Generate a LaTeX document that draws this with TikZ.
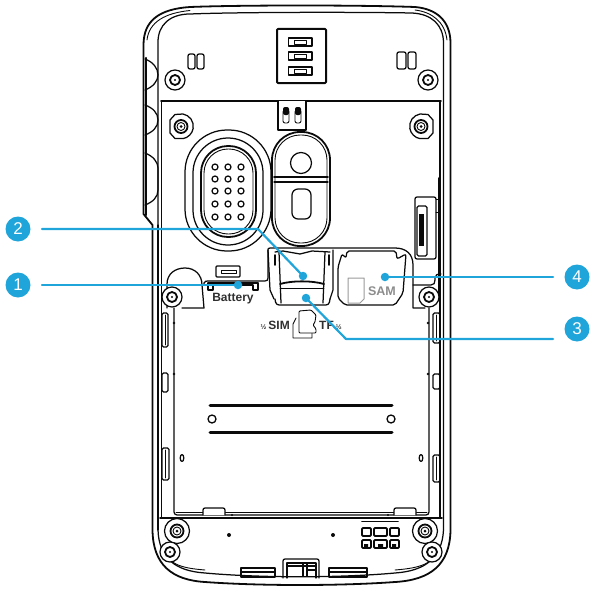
\documentclass[tikz,border=0pt]{standalone}
\usepackage{fontspec}
\setmainfont{Liberation Sans}
\definecolor{callout}{HTML}{1FA5DA}
\definecolor{ink}{HTML}{0A0A0A}
\tikzset{
 every path/.style={line join=round,line cap=round},
 ln/.style={draw=ink,line width=1.25pt},
 thn/.style={draw=ink,line width=.9pt},
 thk/.style={draw=ink,line width=1.8pt},
 badge/.style={circle,fill=callout,minimum size=25pt,inner sep=0,text=white,font=\fontsize{17}{17}\selectfont},
 lead/.style={draw=callout,line width=2.2pt},
 tipdot/.style={circle,fill=callout,minimum size=8.5pt,inner sep=0},
 lbl/.style={inner sep=0,font=\bfseries\fontsize{12}{12}\selectfont,text=ink!85},
 graylbl/.style={inner sep=0,font=\bfseries\fontsize{12.5}{12.5}\selectfont,text=black!45},
}
\newcommand{\screw}[3]{% x,y,r
 \draw[ln,fill=white] (#1,#2) circle (#3);
 \draw[thk] (#1,#2) circle (#3*.5);
 \fill[ink] (#1,#2) circle (#3*.12);
}
\newcommand{\stackmark}{{\fontsize{7}{7}\selectfont ½}}
\begin{document}
\begin{tikzpicture}[x=1pt,y=-1pt]
\useasboundingbox (0,0) rectangle (594,594);
% ---- shell
\draw[thk] (152.5,225) -- (143.5,214) -- (143.5,45) .. controls (143.5,20) and (160,9) .. (190,7) .. controls (240,5) and (360,5) .. (415,7) .. controls (438,9) and (450,22) .. (450.5,42) -- (450.5,530) .. controls (450,565) and (430,580) .. (395,582) .. controls (340,586) and (260,586) .. (205,582) .. controls (172,580) and (153,565) .. (152.5,530) -- cycle;
\draw[thn] (147,40) .. controls (149,22) and (165,13) .. (190,10.5);
\draw[thn] (415,10) .. controls (432,12) and (445,22) .. (447,40);
\draw[ln] (158,225) -- (158,42) .. controls (158,25) and (170,14) .. (190,14) .. controls (240,12) and (360,12) .. (412,13) .. controls (432,14) and (443,25) .. (443.5,42) -- (443.5,530);
\draw[ln] (158,225) -- (158,530);
\draw[ln] (158,530) .. controls (159,558) and (175,571) .. (205,573) .. controls (260,578) and (340,578) .. (395,573) .. controls (425,571) and (442,558) .. (443.5,530);
\draw[thn] (163,545) .. controls (166,564) and (180,568) .. (205,570);
\draw[thn] (395,570) .. controls (420,568) and (436,564) .. (439,545);
\draw[draw=ink,line width=2.4pt] (146,58) -- (146,215);
% side keys
\draw[ln] (145,59) .. controls (153,62) and (158,68) .. (158,75) .. controls (158,81) and (153,87) .. (145,90);
\draw[ln] (145,105) .. controls (153,108) and (158,113) .. (158,120) .. controls (158,127) and (153,132) .. (145,135);
\draw[ln] (145,153) .. controls (153,156) and (158,162) .. (158,168) -- (158,190) .. controls (158,197) and (153,202) .. (145,205);
% ---- top module
\draw[draw=ink,line width=2pt,rounded corners=1pt] (277,29) rectangle (326,83);
\foreach \yy/\name in {38/a,52/b,67/c}{
 \draw[thk] (288.5,\yy) rectangle (312,\yy+8);
 \draw[thn] (294.5,\yy+2) rectangle (306,\yy+6);
}
\foreach \xa/\xb/\ya in {188/195/54,197/204/54,397/406/52,408/416/52}
 \draw[ln,rounded corners=2pt] (\xa,\ya) rectangle (\xb,69);
\screw{175}{80}{10}
\screw{428}{80}{10}
% ---- panel
\draw[thk] (161,101) -- (441,101);
\draw[ln] (161.5,101) -- (161.5,518);
\draw[ln] (440,101) -- (440,518);
\draw[thk] (439,178) -- (439,300);
\draw[thk] (160,518) -- (442,518);
\draw[ln,fill=white] (278,101) -- (278,130) -- (306,130) -- (306,101);
\foreach \xx in {286,298}{
 \draw[thn,rounded corners=2pt] (\xx-3,110) rectangle (\xx+3,123);
 \fill[ink,rounded corners=2pt] (\xx-3,107) rectangle (\xx+3,115);
}
% hex screws
\draw[ln,fill=white] (170,120) -- (175,114.5) -- (183,114) arc (-80:80:12.5) -- (175,138.5) -- (170,133) -- cycle;
\draw[ln,fill=white] (433,120) -- (428,114.5) -- (420,114) arc (260:100:12.5) -- (428,138.5) -- (433,133) -- cycle;
\foreach \cx in {181,421}{
 \draw[thk] (\cx,126.5) circle (6.5);
 \draw[thn] (\cx,126.5) circle (4);
 \fill[ink] (\cx,126.5) circle (1.5);
}
% ---- speaker
\draw[ln,rounded corners=42pt] (185,130) rectangle (271,251);
\draw[ln,rounded corners=35pt] (193,138) rectangle (263,245);
\draw[thk,rounded corners=27pt] (201,146) rectangle (256,237);
\draw[thn,rounded corners=24pt] (204,149) rectangle (253,234);
\foreach \xx in {215,228,241}\foreach \yy in {167,179,191,204,217}
 \draw[ln] (\xx,\yy) circle (3);
% ---- capsule
\draw[thk,rounded corners=28pt] (272,132) rectangle (330,246);
\draw[thn,rounded corners=25pt] (275,135) rectangle (327,243);
\draw[thk] (274,177) -- (328,177);
\draw[ln] (274,182) -- (328,182);
\draw[ln] (301,163) circle (10.5);
\draw[ln,rounded corners=6pt] (292,189) rectangle (311,219);
% ---- right connector
\draw[ln,rounded corners=2pt] (415,197) rectangle (436,259);
\draw[ln,rounded corners=1.5pt] (417,206) rectangle (427,256);
\fill[ink] (419,214) rectangle (424,246);
\draw[thn] (436,199) -- (440,199) (436,212) -- (440,212);
% ---- holder outline
\draw[ln] (167,308) -- (167,284) .. controls (167,274) and (175,268) .. (185,268) .. controls (195,268) and (202,275) .. (202,285) -- (204,308) -- (182,308);
\draw[ln] (204,285) -- (204,283) .. controls (205,281) and (206,281) .. (208,281) -- (265,281) .. controls (267,281) and (268,280) .. (268,278) -- (268,250) .. controls (268,249) and (268,248) .. (270,248) -- (395,248) .. controls (406,248) and (413,254) .. (413,265) -- (413,308) -- (425,308);
\draw[ln] (413,285) -- (431,285) .. controls (434,285) and (435,283) .. (435,280) -- (435,278) .. controls (435,275) and (437,274) .. (441,274);
% ---- battery connector
\draw[ln,rounded corners=1pt] (216,266) rectangle (240,277);
\draw[thn] (221,270) rectangle (236,273);
\draw[thk] (208,283) -- (258,283);
\draw[ln] (208,283) -- (208,290) -- (213,290) -- (213,285) -- (253,285) -- (253,290) -- (258,290) -- (258,283);
\node[lbl] (batt) at (233,299) {Battery};
% ---- SIM / TF tray
\draw[ln] (275,252) -- (283,251) -- (300,254) -- (312,251) -- (330,252);
\draw[ln] (268,250) -- (270,290) -- (274,299) (333,250) -- (333,290) -- (330,299);
\draw[ln,rounded corners=3pt] (275,299) -- (276,305) -- (329,305) -- (330,299);
\draw[ln] (279,252) -- (281,303) (325,252) -- (323,303);
\draw[thk] (275,255) -- (275,265) (329,255) -- (329,265);
\draw[thk] (280,284) .. controls (292,280.5) and (312,280.5) .. (324,284);
\draw[thn] (280,288) -- (324,288);
% ---- SAM tray
\draw[ln,rounded corners=2pt] (342,254) -- (338,267) -- (338,298) -- (345,305) -- (395,305) -- (403,293) -- (406,254) -- (397,259) -- (396,251) -- (347,251) -- (346,258) -- cycle;
\draw[draw=black!40,line width=1pt] (348,278) -- (364,278) -- (364,299) -- (360,303) -- (348,303) -- cycle;
\node[graylbl] (sam) at (382,291) {SAM};
% ---- SIM / TF labels
\node[lbl,anchor=east] (simt) at (290,325) {\stackmark\,SIM};
\node[lbl,anchor=west] (tft) at (319,325) {TF\,\stackmark};
\draw[thn,fill=white] (296,318) -- (293,324) -- (293,338) -- (312,338) -- (312,331);
\draw[thn,fill=white,rounded corners=1pt] (299,333) -- (299,311) -- (311,310) -- (316,315) -- (315,322) -- (313,325) -- (316,329) -- (316,333) -- cycle;
% ---- battery bay
\draw[ln,rounded corners=3pt] (174,308) -- (174,515) -- (429,515) -- (429,308);
\draw[thn] (176,512) -- (427,512);
\foreach \xa/\xb/\ya/\yb in {162/168/313/347,162/168/373/392,162/169/448/480,433/440/313/343,433/440/374/389,433/440/455/482}{
 \draw[ln,rounded corners=1.5pt] (\xa,\ya) rectangle (\xb,\yb);
}
\draw[thn] (165,315) -- (165,345) (165,450) -- (165,478) (436.5,315) -- (436.5,341) (436.5,457) -- (436.5,480);
\fill[ink] (174,323) circle (1.3) (174,374) circle (1.3) (428,323) circle (1.3) (428,374) circle (1.3);
\draw[draw=ink,line width=3pt] (210,405) -- (392,405) (210,432) -- (392,432);
\draw[draw=ink,line width=1.3pt] (212,419) circle (4) (391,419) circle (4);
\draw[ln] (182,458) ellipse (1.8 and 3.5) (421,458) ellipse (1.8 and 3.5);
\foreach \xa in {203,394}{
 \draw[ln,fill=white,rounded corners=2pt] (\xa,515) -- (\xa,508) -- (\xa+22,508) -- (\xa+22,515);
}
\fill[ink] (232,515) circle (1.2) (388,515) circle (1.2);
% ---- screws
\screw{172}{297}{10}
\screw{429}{297}{10}
\foreach \cx/\cy in {177/531,425/531}{
 \draw[ln,fill=white] (\cx,\cy) circle (12.5);
 \draw[thk] (\cx,\cy) circle (6.5);
 \draw[thn] (\cx,\cy) circle (4);
 \fill[ink] (\cx,\cy) circle (1.5);
}
\screw{170}{552}{10}
\screw{432}{552}{10}
% ---- bottom
\fill[ink] (229,535) circle (2) (333,535) circle (2);
\draw[thk] (362,521.5) -- (398,521.5);
\foreach \xa/\xb in {362/371,374/387,390/399}{
 \draw[thk,rounded corners=1pt] (\xa,528) rectangle (\xb,536);
 \draw[thk,rounded corners=1pt] (\xa,540) rectangle (\xb,548);
}
\fill[ink] (364,544) rectangle (368,548) (378,544) rectangle (383,548) (392,544) rectangle (396,548);
\draw[thk] (241,577) -- (241,568) -- (275,568) -- (275,577) -- cycle;
\draw[thk] (241,572) -- (275,572);
\draw[thk] (329,577) -- (329,568) -- (367,568) -- (367,577) -- cycle;
\draw[thk] (329,572) -- (367,572);
\draw[ln,rounded corners=2pt] (283,578) -- (283,559) -- (319,559) -- (319,578);
\draw[ln] (287,578) -- (287,563) -- (316,563) -- (316,578);
\draw[ln] (287,566) -- (316,566) (303,563) -- (303,576) (307,563) -- (307,576) (307,570) -- (316,570);
% ---- callouts
\node[badge] (b1) at (18,285) {1};
\node[badge] (b2) at (18,229) {2};
\node[badge] (b3) at (577,329) {3};
\node[badge] (b4) at (577,277) {4};
\node[tipdot] (d1) at (238,285) {};
\node[tipdot] (d2) at (303,276) {};
\node[tipdot] (d3) at (306,298) {};
\node[tipdot] (d4) at (385,277) {};
\coordinate (s1) at (42,285);
\coordinate (s2) at (42,229);
\coordinate (s3) at (553,339);
\coordinate (s4) at (553,277);
\coordinate (k2) at (258,229);
\coordinate (k3) at (346,339);
\draw[lead] (s1) -- (d1.center);
\draw[lead] (s2) -- (k2) -- (d2.center);
\draw[lead] (s3) -- (k3) -- (d3.center);
\draw[lead] (s4) -- (d4.center);
\end{tikzpicture}
\end{document}
